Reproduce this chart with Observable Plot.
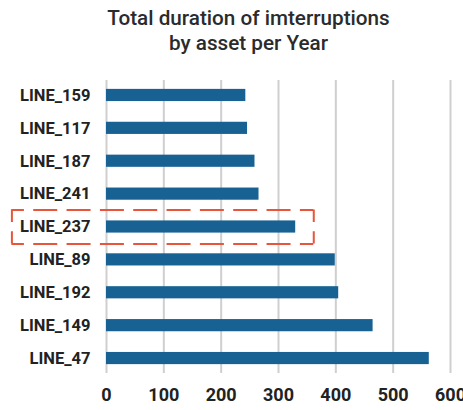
<!DOCTYPE html>
<html>
<head>
<meta charset="utf-8">
<script src="https://cdn.jsdelivr.net/npm/d3@7"></script>
<script src="https://cdn.jsdelivr.net/npm/@observablehq/plot@0.6"></script>
<style>
  html, body { margin: 0; padding: 0; background: #fff; }
  body { width: 463px; height: 410px; overflow: hidden; font-family: Roboto, "Noto Sans", sans-serif; }
  #title { height: 62px; box-sizing: border-box; padding-top: 6px; text-align: center; padding-left: 34px;
    font-size: 20.7px; font-weight: 500; line-height: 25px; color: #2b2b2b; }
  #chart svg { display: block; }
</style>
</head>
<body>
<div id="title">Total duration of imterruptions<br>by asset per Year</div>
<div id="chart"></div>
<script>
const assets = ["LINE_159", "LINE_117", "LINE_187", "LINE_241", "LINE_237", "LINE_89", "LINE_192", "LINE_149", "LINE_47"];
const durations = [243, 246, 259, 266, 330, 399, 405, 465, 563];
const xTicks = [0, 100, 200, 300, 400, 500, 600];
const highlighted = ["LINE_237"];
const highlightExtent = [-165, 361.5];

const data = assets.map((a, i) => ({asset: a, value: durations[i]}));
const hlEdges = highlighted.map(a => ({asset: a, x1: highlightExtent[0], x2: highlightExtent[1]}));
const hlSides = highlighted.flatMap(a => highlightExtent.map(x => ({asset: a, x})));

const dash = {stroke: "#e8553a", strokeWidth: 2, strokeDasharray: "24,9.33", strokeDashoffset: 11.5, clip: false};

const plot = Plot.plot({
  width: 463,
  height: 348,
  marginTop: 18,
  marginBottom: 37,
  marginLeft: 106,
  marginRight: 13,
  style: {fontFamily: "Roboto, sans-serif", color: "#222", background: "#fff", overflow: "visible"},
  x: {domain: [0, 600], ticks: xTicks, label: null, grid: false},
  y: {domain: assets, label: null, paddingInner: 0.63, paddingOuter: 0.27, round: false},
  marks: [
    Plot.gridX(xTicks, {stroke: "#cfcfcf", strokeOpacity: 1, strokeWidth: 2}),
    Plot.barX(data, {x: "value", y: "asset", fill: "#176292"}),
    Plot.axisY({tickSize: 0, tickPadding: 16, fontSize: 16.5, fontWeight: 700, fill: "#222"}),
    Plot.axisX({ticks: xTicks, tickSize: 0, tickPadding: 15, fontSize: 18, fontWeight: 700, fill: "#222", tickFormat: d3.format("d")}),
    Plot.ruleY(hlEdges, {y: "asset", x1: "x1", x2: "x2", dy: -17, ...dash}),
    Plot.ruleY(hlEdges, {y: "asset", x1: "x1", x2: "x2", dy: 17, ...dash}),
    Plot.tickX(hlSides, {x: "x", y: "asset", insetTop: -11, insetBottom: -11, ...dash})
  ]
});
document.getElementById("chart").appendChild(plot);
</script>
</body>
</html>
